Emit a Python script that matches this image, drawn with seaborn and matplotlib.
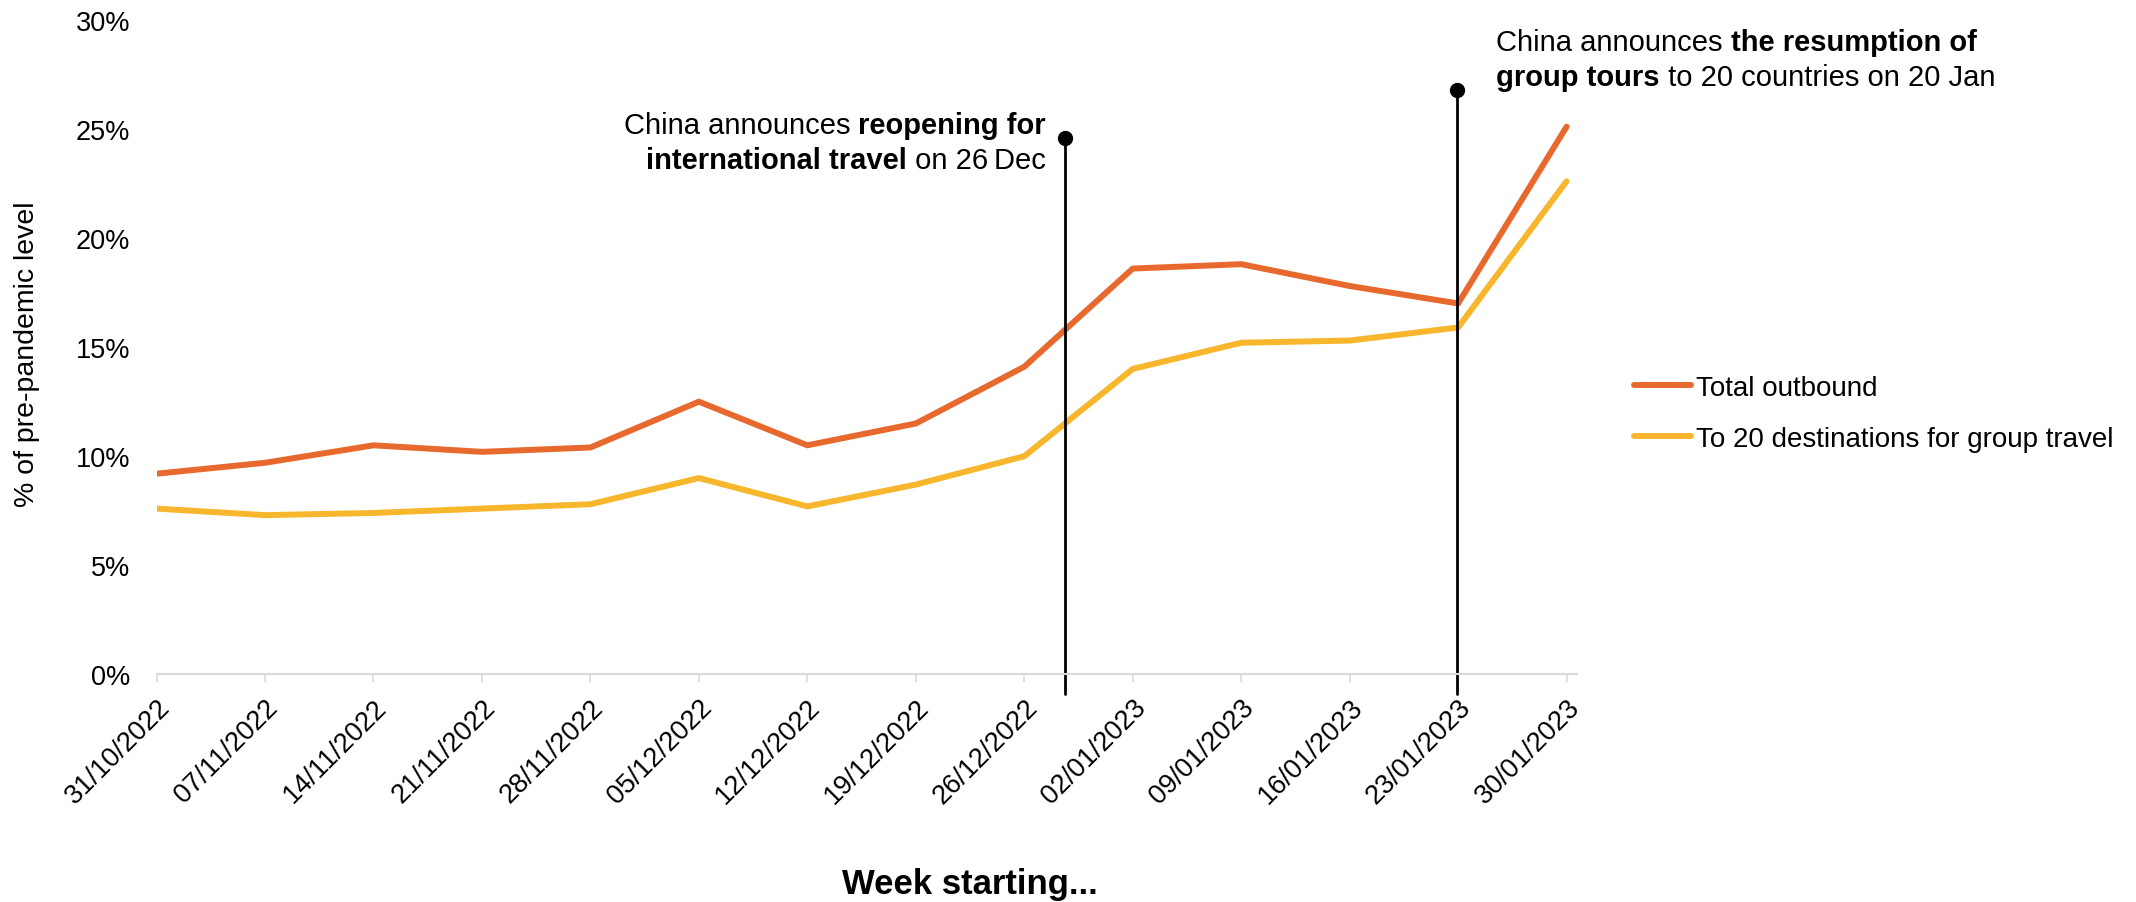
import pandas as pd
import matplotlib.pyplot as plt
import seaborn as sns
import numpy as np

# Weekly outbound travel from China, % of pre-pandemic level
weeks = ['31/10/2022', '07/11/2022', '14/11/2022', '21/11/2022', '28/11/2022',
         '05/12/2022', '12/12/2022', '19/12/2022', '26/12/2022', '02/01/2023',
         '09/01/2023', '16/01/2023', '23/01/2023', '30/01/2023']

total_outbound = [9.2, 9.7, 10.5, 10.2, 10.4, 12.5, 10.5, 11.5,
                  14.1, 18.6, 18.8, 17.8, 17.0, 25.1]
group_destinations = [7.6, 7.3, 7.4, 7.6, 7.8, 9.0, 7.7, 8.7,
                      10.0, 14.0, 15.2, 15.3, 15.9, 22.6]

series_names = ['Total outbound', 'To 20 destinations for group travel']
colours = ['#E8692D', '#F8B62C']

y_ticks = [0, 5, 10, 15, 20, 25, 30]

# event markers (position on week axis, top of the pin in %)
event_pos = [8.38, 11.99]
event_top = [24.6, 26.8]
event_bottom = -0.9

df = pd.DataFrame({
    'week': list(range(len(weeks))) * 2,
    'value': total_outbound + group_destinations,
    'series': [series_names[0]] * len(weeks) + [series_names[1]] * len(weeks),
})

sns.set_style('white')
plt.rcParams['font.family'] = ['Liberation Sans', 'DejaVu Sans']
plt.rcParams['text.color'] = 'black'
plt.rcParams['xtick.labelcolor'] = 'black'
plt.rcParams['ytick.labelcolor'] = 'black'

fig = plt.figure(figsize=(21.36, 9.03), dpi=100)
ax = fig.add_axes([0.0733, 0.252, 0.6652, 0.725])

sns.lineplot(
    data=df, x='week', y='value', hue='series',
    palette=colours, linewidth=4.3, ax=ax, legend=False
)
for line in ax.lines:
    line.set_solid_capstyle('round')
    line.set_solid_joinstyle('round')

ax.set_xlim(0, 13.1)
ax.set_ylim(0, 30)
ax.set_yticks(y_ticks)
ax.set_yticklabels([f'{t}%' for t in y_ticks], fontsize=19.5)
ax.set_xticks(range(len(weeks)))
ax.set_xticklabels(weeks, rotation=45, ha='right', rotation_mode='anchor', fontsize=19.5)
ax.tick_params(axis='y', length=0, pad=19)
ax.tick_params(axis='x', length=6, width=1.2, color='#d9d9d9', pad=8, bottom=True)
ax.set_xlabel('')
ax.set_ylabel('')

for side in ['top', 'right', 'left']:
    ax.spines[side].set_visible(False)
ax.spines['bottom'].set_color('#d9d9d9')
ax.spines['bottom'].set_linewidth(1.5)

# event pins
for pos, top in zip(event_pos, event_top):
    ax.plot([pos, pos], [event_bottom, top], color='black', lw=2, clip_on=False)
    ax.plot([pos], [top], marker='o', color='black', markersize=10, clip_on=False)


def rich_line(x, y, parts, ha='left'):
    # parts: list of (text, weight); chain them along one line
    if ha == 'right':
        parts = parts[::-1]
    prev = None
    for txt, weight in parts:
        if prev is None:
            prev = ax.text(x, y, txt, fontsize=21, fontweight=weight,
                           ha=ha, va='center')
        else:
            xy = (0, 0.5) if ha == 'right' else (1, 0.5)
            prev = ax.annotate(txt, xy=xy, xycoords=prev, fontsize=21,
                               fontweight=weight, ha=ha, va='center')


rich_line(8.2, 25.2, [('China announces ', 'normal'), ('reopening for', 'bold')], ha='right')
rich_line(8.2, 23.58, [('international travel', 'bold'), (' on 26\u2009Dec', 'normal')], ha='right')
rich_line(12.35, 28.98, [('China announces ', 'normal'), ('the resumption of', 'bold')])
rich_line(12.35, 27.36, [('group tours', 'bold'), (' to 20 countries on 20 Jan', 'normal')])

handles = [plt.Line2D([], [], color=c, lw=4.3, solid_capstyle='round') for c in colours]
fig.legend(handles, series_names, loc='center left', bbox_to_anchor=(0.765, 0.541),
           frameon=False, fontsize=20, handlelength=2.05, handletextpad=0.18,
           labelspacing=0.9, borderpad=0, borderaxespad=0)

fig.text(0.0128, 0.608, '% of pre-pandemic level', rotation=90, fontsize=20.5,
         ha='center', va='center')
fig.text(0.454, 0.02, 'Week starting...', fontsize=25, fontweight='bold',
         ha='center', va='center')

fig.savefig('out.png', dpi=100)
